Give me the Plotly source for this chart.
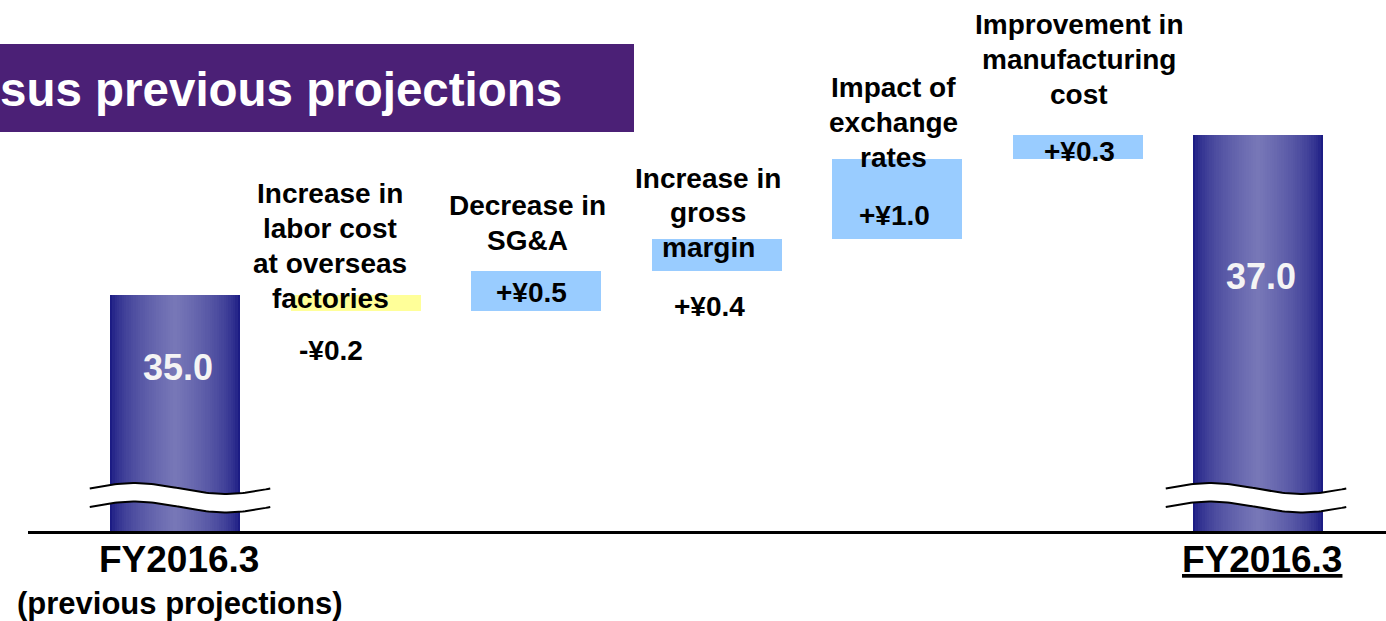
import numpy as np
import plotly.graph_objects as go

# Operating income bridge, FY2016.3 forecast vs previous projections (¥ billion)
start_label = "FY2016.3"
start_sublabel = "(previous projections)"
end_label = "FY2016.3"
start_value = 35.0
end_value = 37.0

factor_labels = [
    "Increase in<br>labor cost<br>at overseas<br>factories",
    "Decrease in<br>SG&A",
    "Increase in<br>gross<br>margin",
    "Impact of<br>exchange<br>rates",
    "Improvement in<br>manufacturing<br>cost",
]
factor_deltas = [-0.2, 0.5, 0.4, 1.0, 0.3]

heading = "sus previous projections"

# ---------------------------------------------------------------- geometry
W, H = 1386, 621
COL0_PX, COL_STEP_PX = 175.0, 180.5      # column centre spacing
REF_VAL, REF_PX, PX_PER_UNIT = 35.0, 295.0, 80.0
BAR_W = 130.0 / COL_STEP_PX

x_range = [(0 - COL0_PX) / COL_STEP_PX, (W - COL0_PX) / COL_STEP_PX]
y_range = [REF_VAL - (H - REF_PX) / PX_PER_UNIT, REF_VAL + REF_PX / PX_PER_UNIT]
axis_floor = REF_VAL - (531 - REF_PX) / PX_PER_UNIT   # broken axis baseline


def px_x(p):
    return x_range[0] + p / W * (x_range[1] - x_range[0])


def px_y(p):
    return y_range[1] - p / H * (y_range[1] - y_range[0])


FONT = "Liberation Sans, Arial, sans-serif"
NAVY_EDGE = np.array([0x0E, 0x0E, 0x7C])
NAVY_MID = np.array([0x78, 0x78, 0xB8])
UP_COLOR = "#99CCFF"
DOWN_COLOR = "#FFFF99"
TITLE_BG = "#4B2076"

fig = go.Figure()

# ---------------------------------------------------------------- total bars (cylinder shading)
n_total = len(factor_deltas) + 1
total_x = [0, n_total]
total_y = [start_value, end_value]
N_LAYERS = 28
for k in range(N_LAYERS):
    d = (k + 0.5) / N_LAYERS
    c = NAVY_EDGE + (NAVY_MID - NAVY_EDGE) * np.sqrt(d)
    color = "rgb(%d,%d,%d)" % tuple(int(round(v)) for v in c)
    fig.add_trace(go.Bar(
        x=total_x, y=[v - axis_floor for v in total_y], base=axis_floor,
        width=BAR_W * (1 - k / N_LAYERS), marker=dict(color=color, line=dict(width=0)),
        hoverinfo="skip", showlegend=False,
    ))

# ---------------------------------------------------------------- factor bars
bases = []
running = start_value
for d in factor_deltas:
    bases.append(running)
    running += d
factor_x = list(range(1, len(factor_deltas) + 1))
fig.add_trace(go.Bar(
    x=factor_x, y=factor_deltas, base=bases, width=BAR_W,
    marker=dict(color=[UP_COLOR if d > 0 else DOWN_COLOR for d in factor_deltas],
                line=dict(width=0)),
    hoverinfo="skip", showlegend=False,
))

# ---------------------------------------------------------------- axis break marks
t = np.linspace(0, 1, 80)
amp = 5.5 / PX_PER_UNIT
top_mid, bot_mid = px_y(488.5), px_y(507)
BREAK_SHIFT_PX = [5, -2]
for xc, shift in zip(total_x, BREAK_SHIFT_PX):
    xs = xc + shift / COL_STEP_PX - 0.5 + t
    top = top_mid + amp * np.sin(2 * np.pi * t)
    bot = bot_mid + amp * np.sin(2 * np.pi * t)
    fig.add_trace(go.Scatter(
        x=np.concatenate([xs, xs[::-1]]), y=np.concatenate([top, bot[::-1]]),
        fill="toself", fillcolor="white", mode="lines", line=dict(width=0),
        hoverinfo="skip", showlegend=False,
    ))
    for curve in (top, bot):
        fig.add_trace(go.Scatter(
            x=xs, y=curve, mode="lines", line=dict(color="black", width=2),
            hoverinfo="skip", showlegend=False,
        ))

# ---------------------------------------------------------------- text
ann = []


def text(x, y, s, size, color="black", xref="x", yref="y", xanchor="center"):
    ann.append(dict(x=x, y=y, xref=xref, yref=yref, text=s, showarrow=False,
                    xanchor=xanchor, yanchor="middle",
                    font=dict(family=FONT, size=size, color=color)))


# factor captions: (centre x px, first-line y px)
LABEL_POS = [(330, 193.7), (527.5, 205.5), (708, 178), (893, 87.8), (1079, 24.7)]
LINE_GAP = 34.8
for lbl, (cx, cy) in zip(factor_labels, LABEL_POS):
    for j, line in enumerate(lbl.split("<br>")):
        text(px_x(cx), px_y(cy + j * LINE_GAP), "<b>%s</b>" % line, 28)

# factor values
VALUE_POS = [(330.5, 350.7), (531, 292.8), (709, 306.7), (894, 215), (1079, 151.7)]
for d, (cx, cy) in zip(factor_deltas, VALUE_POS):
    s = ("+" if d > 0 else "-") + "¥%.1f" % abs(d)
    text(px_x(cx), px_y(cy), "<b>%s</b>" % s, 28)

# totals inside the bars
TOTAL_POS = [(178, 367.5), (1261, 276.7)]
for v, (cx, cy) in zip(total_y, TOTAL_POS):
    text(px_x(cx), px_y(cy), "<b>%.1f</b>" % v, 36, color="#F4F4F4")

# category labels under the axis
text(px_x(179), px_y(559.5), "<b>%s</b>" % start_label, 37)
text(px_x(180), px_y(603), "<b>%s</b>" % start_sublabel, 31)
text(px_x(1262), px_y(559.5), "<b><u>%s</u></b>" % end_label, 37)

# heading band
text(-2 / W, 1 - 90 / H, "<b>%s</b>" % heading, 47.5,
     color="white", xref="paper", yref="paper", xanchor="left")

fig.update_layout(
    width=W, height=H,
    margin=dict(l=0, r=0, t=0, b=0),
    paper_bgcolor="white", plot_bgcolor="white",
    barmode="overlay", bargap=0,
    showlegend=False,
    xaxis=dict(range=x_range, visible=False, fixedrange=True),
    yaxis=dict(range=y_range, visible=False, fixedrange=True),
    annotations=ann,
    shapes=[
        dict(type="rect", xref="paper", yref="paper", x0=0, x1=634 / W,
             y0=1 - 132 / H, y1=1 - 44 / H, fillcolor=TITLE_BG,
             line=dict(width=0), layer="below"),
        dict(type="line", xref="x", yref="y", x0=px_x(28), x1=x_range[1],
             y0=px_y(532.5), y1=px_y(532.5), line=dict(color="black", width=3),
             layer="above"),
    ],
)

fig.write_html("out.html")
